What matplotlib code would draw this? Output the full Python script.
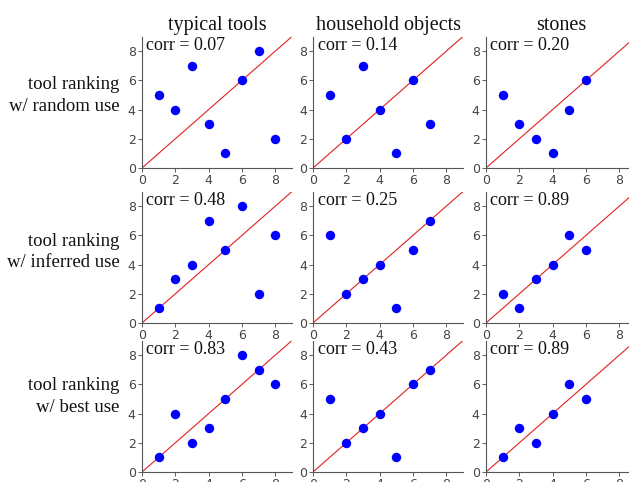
import matplotlib
matplotlib.use("Agg")
import matplotlib.pyplot as plt

col_titles = ["typical tools", "household objects", "stones"]
row_labels = ["tool ranking\nw/ random use", "tool ranking\nw/ inferred use", "tool ranking\nw/ best use"]

x_tools = [1, 2, 3, 4, 5, 6, 7, 8]
x_house = [1, 2, 3, 4, 5, 6, 7]
x_stones = [1, 2, 3, 4, 5, 6]

# y rankings: rows = random / inferred / best use
y_tools_random = [5, 4, 7, 3, 1, 6, 8, 2]
y_house_random = [5, 2, 7, 4, 1, 6, 3]
y_stones_random = [5, 3, 2, 1, 4, 6]
y_tools_inferred = [1, 3, 4, 7, 5, 8, 2, 6]
y_house_inferred = [6, 2, 3, 4, 1, 5, 7]
y_stones_inferred = [2, 1, 3, 4, 6, 5]
y_tools_best = [1, 4, 2, 3, 5, 8, 7, 6]
y_house_best = [5, 2, 3, 4, 1, 6, 7]
y_stones_best = [1, 3, 2, 4, 6, 5]

corr_values = [["0.07", "0.14", "0.20"],
               ["0.48", "0.25", "0.89"],
               ["0.83", "0.43", "0.89"]]

xs = [x_tools, x_house, x_stones]
ys = [[y_tools_random, y_house_random, y_stones_random],
      [y_tools_inferred, y_house_inferred, y_stones_inferred],
      [y_tools_best, y_house_best, y_stones_best]]

W, H = 629, 482
fig = plt.figure(figsize=(W / 100, H / 100), dpi=100)
serif = "Liberation Serif"

col_left = [142, 313, 486]
row_bottom = [168, 323, 472]
row_label_y = [0.55, 0.54, 0.575]
ax_w = 150
ax_h = 131.5

for r in range(3):
    for c in range(3):
        ax = fig.add_axes([col_left[c] / W, (H - row_bottom[r]) / H, ax_w / W, ax_h / H])
        ax.set_xlim(0, 9)
        ax.set_ylim(0, 9)
        ax.plot([0, 9], [0, 9], color="#e02020", lw=0.8, zorder=1)
        ax.plot(xs[c], ys[r][c], "o", color="#0000ff", markersize=6.8,
                markeredgewidth=0, zorder=2)
        ax.set_xticks([0, 2, 4, 6, 8])
        ax.set_yticks([0, 2, 4, 6, 8])
        for s in ["top", "right"]:
            ax.spines[s].set_visible(False)
        for s in ["left", "bottom"]:
            ax.spines[s].set_color("#555555")
            ax.spines[s].set_linewidth(0.8)
        ax.tick_params(colors="#444444", labelsize=9, length=3, width=0.6, pad=1.5)
        ax.patch.set_alpha(0)
        ax.text(0.03, 0.995, "corr = " + corr_values[r][c], transform=ax.transAxes,
                ha="left", va="top", family=serif, fontsize=13, color="#111111")
        if r == 0:
            ax.set_title(col_titles[c], family=serif, fontsize=14.5, pad=5, color="#111111")
        if c == 0:
            ax.text(-0.15, row_label_y[r], row_labels[r], transform=ax.transAxes, ha="right",
                    va="center", family=serif, fontsize=13.5, color="#111111",
                    linespacing=1.35)

fig.savefig("out.png", dpi=100)
